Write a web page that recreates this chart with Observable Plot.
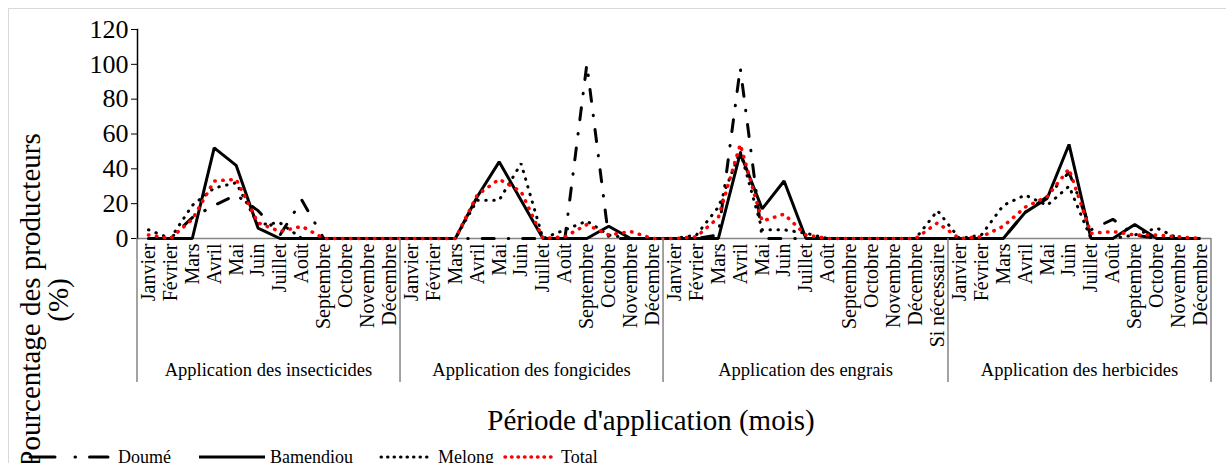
<!DOCTYPE html>
<html><head><meta charset="utf-8">
<script src="https://cdn.jsdelivr.net/npm/d3@7"></script>
<script src="https://cdn.jsdelivr.net/npm/@observablehq/plot@0.6"></script>
<style>
body{margin:0;background:#fff;font-family:"Liberation Serif","Times New Roman",serif;color:#000;}
#wrap{position:relative;width:1226px;height:463px;overflow:hidden;background:#fff;}
#border{position:absolute;left:8px;top:8px;width:1300px;height:600px;border:1px solid #d9d9d9;box-sizing:border-box;}
#chart{position:absolute;left:0;top:0;}
#ytitle{position:absolute;left:44px;top:300px;transform:translate(-50%,-50%) rotate(-90deg);font-size:29px;line-height:28px;text-align:center;white-space:nowrap;}
#xtitle{position:absolute;left:651px;top:404px;transform:translateX(-50%);font-size:29px;line-height:32px;white-space:nowrap;}
#legend{position:absolute;left:0;top:447px;height:20px;display:flex;align-items:center;font-size:18px;white-space:nowrap;}
#legend svg{display:block;}
</style></head>
<body><div id="wrap"><div id="border"></div><div id="chart"></div>
<div id="xtitle">Période d'application (mois)</div>
<div id="ytitle">Pourcentage des producteurs<br>(%)</div>
<div id="legend"></div></div>
<script>
// ---- categories ----
const months = ["Janvier","Février","Mars","Avril","Mai","Juin","Juillet","Août","Septembre","Octobre","Novembre","Décembre"];
const monthsEngrais = [...months, "Si nécessaire"];
const groups = ["Application des insecticides","Application des fongicides","Application des engrais","Application des herbicides"];
const groupMonths = [months, months, monthsEngrais, months];
const yTicks = [0,20,40,60,80,100,120];

// ---- series values (%), in order: insecticides(12), fongicides(12), engrais(13), herbicides(12) ----
const seriesNames = ["Doumé","Bamendiou","Melong","Total"];
const doume = [
  0,0,12,19,25,16,2,22,0,0,0,0,
  0,0,0,0,0,0,0,0,100,0,0,0,
  0,0,2,98,0,0,0,0,0,0,0,0,0,
  0,0,0,15,24,38,5,11,2,0,0,0
];
const bamendiou = [
  0,0,0,52,42,6,0,0,0,0,0,0,
  0,0,0,24,44,22,0,0,0,7,0,0,
  0,0,0,49,17,33,0,0,0,0,0,0,0,
  0,0,0,15,23,54,0,0,8,0,0,0
];
const melong = [
  5,0,19,29,32,8,9,0,0,0,0,0,
  0,0,0,22,22,43,0,5,10,2,0,0,
  0,2,18,50,5,5,3,0,0,0,0,0,16,
  0,2,19,25,19,30,0,0,2,6,0,0
];
const total = [
  2,0,11,33,34,9,4,7,0,0,0,0,
  0,0,0,25,34,27,0,1,8,2,4,0,
  0,1,12,54,10,14,2,0,0,0,0,0,9,
  0,1,7,18,24,40,3,4,2,2,1,0
];

// ---- styles ----
const styles = {
  "Doumé":     {stroke:"#000", strokeWidth:3, strokeDasharray:"12,14,0.5,14", strokeLinecap:"round"},
  "Bamendiou": {stroke:"#000", strokeWidth:3, strokeDasharray:null, strokeLinecap:"butt"},
  "Melong":    {stroke:"#000", strokeWidth:3, strokeDasharray:"0.5,7.5", strokeLinecap:"round"},
  "Total":     {stroke:"#ff0000", strokeWidth:3.5, strokeDasharray:"0.5,7.5", strokeLinecap:"round"}
};
const values = {"Doumé":doume, "Bamendiou":bamendiou, "Melong":melong, "Total":total};

const keys = groups.flatMap((g,gi) => groupMonths[gi].map(m => g + "|" + m));
const rows = name => keys.map((k,i) => ({key:k, value:values[name][i], series:name}));
const drawOrder = ["Bamendiou","Doumé","Melong","Total"];

const lineMark = name => {
  const s = styles[name];
  const o = {x:"key", y:"value", stroke:s.stroke, strokeWidth:s.strokeWidth, strokeLinecap:s.strokeLinecap, strokeLinejoin:"miter"};
  if (s.strokeDasharray) o.strokeDasharray = s.strokeDasharray;
  return Plot.line(rows(name), o);
};

const svg = Plot.plot({
  width:1226, height:440,
  marginLeft:137, marginRight:15, marginTop:29, marginBottom:202,
  style:{fontFamily:'"Liberation Serif","Times New Roman",serif', fontSize:"18px", color:"#000", background:"transparent", overflow:"visible"},
  x:{type:"band", domain:keys, padding:0, axis:null},
  y:{domain:[0,120], axis:null},
  marks:[
    Plot.ruleY([0], {stroke:"#858585", strokeWidth:1.5}),
    ...drawOrder.map(lineMark),
    Plot.axisY({ticks:yTicks, tickSize:6, tickPadding:3, fontSize:26, label:null, stroke:"#000"}),
    Plot.frame({anchor:"left", stroke:"#000", strokeWidth:1.5}),
    Plot.text(keys, {x:d=>d, text:d=>d.split("|")[1], frameAnchor:"bottom", rotate:-90, textAnchor:"end", lineAnchor:"middle", dy:5, fontSize:20, fill:"#000"})
  ]
});
document.getElementById("chart").append(svg);

// group separators and group labels, positioned with the plot's own scales
const xs = svg.scale("x"), ys = svg.scale("y");
const bw = xs.bandwidth;
const isStart = Math.abs(xs.apply(keys[0]) - Math.min(...xs.range)) < 0.5;
const startOf = k => isStart ? xs.apply(k) : xs.apply(k) - bw/2;
const y0 = ys.apply(0);
const g = d3.select(svg).append("g");
let idx = 0;
const bounds = [];
groups.forEach((gname, gi) => {
  const first = keys[idx], last = keys[idx + groupMonths[gi].length - 1];
  idx += groupMonths[gi].length;
  const a = startOf(first), b = startOf(last) + bw;
  bounds.push(a); if (gi === groups.length-1) bounds.push(b);
  g.append("text").attr("x",(a+b)/2).attr("y",y0+138).attr("text-anchor","middle")
   .attr("font-size",18.5).attr("fill","#000").text(gname);
});
bounds.forEach(x => g.append("line").attr("x1",x).attr("x2",x).attr("y1",y0).attr("y2",y0+144)
  .attr("stroke","#858585").attr("stroke-width",1.5));

// legend: [left margin, sample start, sample width, gap before label, dash pattern]
const legendLayout = {
  "Doumé":[5,25,105,8,"25,20,0.5,14"],
  "Bamendiou":[26,2,70,3,null],
  "Melong":[26,2,54,5,"0.5,6"],
  "Total":[9,2,54,4,"0.5,6"]
};
const leg = d3.select("#legend");
seriesNames.forEach(name => {
  const [ml, x1, w, gap, dash] = legendLayout[name];
  const s = styles[name];
  const sv = leg.append("svg").attr("width",w).attr("height",20).style("margin-left",ml+"px");
  const ln = sv.append("line").attr("x1",x1).attr("x2",w-2).attr("y1",10).attr("y2",10)
    .attr("stroke",s.stroke).attr("stroke-width",s.strokeWidth).attr("stroke-linecap",s.strokeLinecap);
  if (dash) ln.attr("stroke-dasharray", dash);
  leg.append("span").style("margin-left",gap+"px").text(name);
});
</script>
</body></html>
